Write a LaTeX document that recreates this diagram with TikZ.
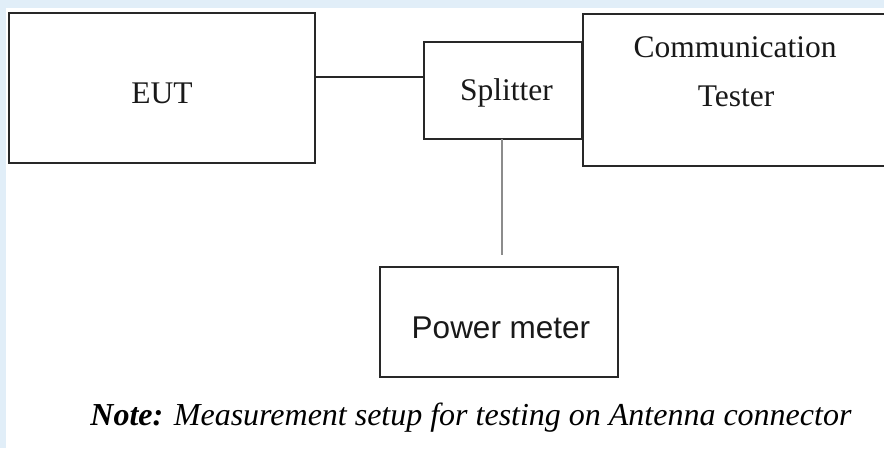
\documentclass[tikz,border=0pt]{standalone}
\usepackage{fontspec}
\setmainfont{Liberation Serif}
\newfontfamily\arialfont{Liberation Sans}
\usepackage{graphicx}
\definecolor{edgeblue}{RGB}{225,238,248}
\definecolor{boxline}{RGB}{40,40,40}
\definecolor{linkgray}{RGB}{140,140,140}
\tikzset{
  unitbox/.style={draw=boxline, line width=1.4pt, fill=white, rectangle, inner sep=0pt, outer sep=0pt},
  lbl/.style={inner sep=0pt, outer sep=0pt, anchor=base, font=\fontsize{31.5}{36}\selectfont, text=black!90},
  link/.style={line width=1.4pt, draw=black!85},
  glink/.style={line width=1.8pt, draw=linkgray}
}
\begin{document}
\begin{tikzpicture}[x=1pt,y=-1pt]
\useasboundingbox (0,0) rectangle (884,448);
\clip (0,0) rectangle (884,448);
\fill[edgeblue] (0,0) rectangle (884,448);
\fill[white] (6,8) rectangle (884,448);
% boxes
\node[unitbox, minimum width=306pt, minimum height=150pt] (eut) at (162,88) {};
\node[unitbox, minimum width=312pt, minimum height=152pt] (tester) at (739,90) {};
\node[unitbox, minimum width=158pt, minimum height=97pt] (split) at (503,90.5) {};
\node[unitbox, minimum width=238pt, minimum height=110pt] (pm) at (499,322) {};
% labels
\node[lbl] (eutlbl) at (162,103) {EUT};
\node[lbl] (splitlbl) at (506.5,100) {Splitter};
\node[lbl] (commlbl) at (735,57) {Communication};
\node[lbl] (testlbl) at (736,106) {Tester};
\node[lbl, font=\arialfont\fontsize{31.5}{36}\selectfont] (pmlbl) at (501,338) {Power meter};
% connectors
\coordinate (j) at ([yshift=11pt]eut.east);
\draw[link] (j) -- (j -| split.west);
\coordinate (pmtop) at ([yshift=12pt]pm.north);
\draw[glink] ([xshift=-1pt]split.south) -- ([xshift=-1pt]split.south |- pmtop);
% note
\node[inner sep=0pt, anchor=base] (note) at (471,425) {\resizebox{761pt}{\height}{\fontsize{32}{36}\selectfont\textbf{\textit{Note:}} \textit{Measurement setup for testing on Antenna connector}}};
\end{tikzpicture}
\end{document}
